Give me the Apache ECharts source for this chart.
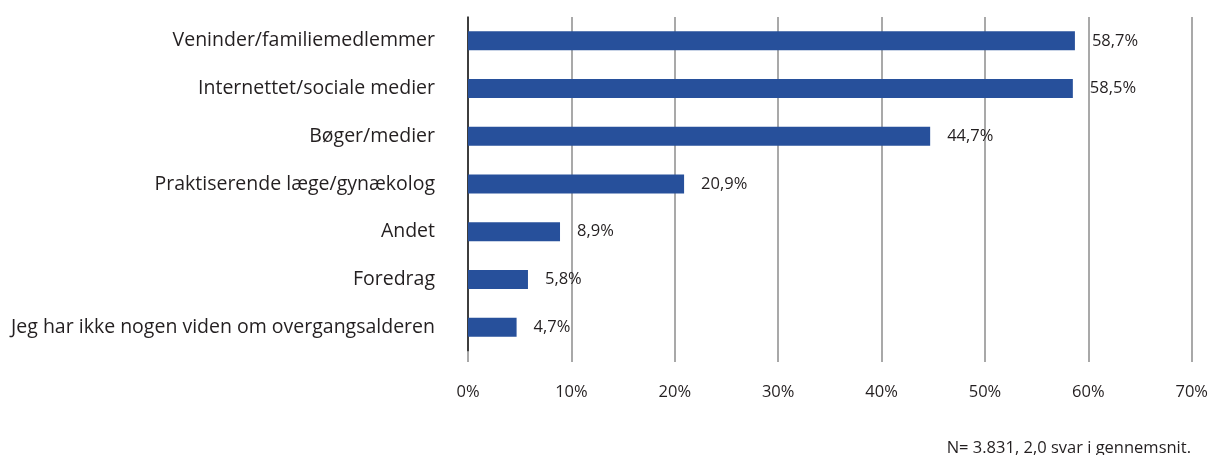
<!DOCTYPE html>
<html><head><meta charset="utf-8">
<script src="https://cdn.jsdelivr.net/npm/echarts@6/dist/echarts.min.js"></script>
<style>html,body{margin:0;padding:0;background:#fff}#c{width:1211px;height:455px}</style>
</head><body><div id="c"></div>
<script>
const categories = ["Veninder/familiemedlemmer","Internettet/sociale medier","Bøger/medier","Praktiserende læge/gynækolog","Andet","Foredrag","Jeg har ikke nogen viden om overgangsalderen"];
const values = [58.7, 58.5, 44.7, 20.9, 8.9, 5.8, 4.7];
const xTicks = [0,10,20,30,40,50,60,70];
const footnote = "N= 3.831, 2,0 svar i gennemsnit.";
const FONT = "Open Sans";
const chart = echarts.init(document.getElementById('c'));
chart.setOption({
  animation:false,
  textStyle:{fontFamily:FONT},
  grid:{left:468,right:18,top:17,bottom:104,containLabel:false},
  xAxis:{type:'value',min:0,max:70,interval:10,
    axisLine:{show:false},
    axisTick:{show:true,inside:false,length:11,lineStyle:{color:'#8c8c8c',width:1.5}},
    splitLine:{show:true,lineStyle:{color:'#8c8c8c',width:1.5}},
    axisLabel:{margin:33,color:'#231f20',fontSize:16.5,fontFamily:FONT,verticalAlign:'top',
      formatter:v=>xTicks.includes(v)?v+'%':''}},
  yAxis:{type:'category',inverse:true,data:categories,
    axisLine:{show:true,onZero:false,lineStyle:{color:'#1a1a1a',width:1.5}},
    axisTick:{show:false},
    axisLabel:{margin:33,color:'#231f20',fontSize:19.5,fontFamily:FONT}},
  series:[{type:'bar',data:values,barWidth:19,
    itemStyle:{color:'#27509b'},
    label:{show:true,position:'right',distance:17,color:'#231f20',fontSize:16.5,fontFamily:FONT,
      formatter:p=>p.value.toFixed(1).replace('.',',')+'%'}}],
  graphic:[{type:'text',right:20,top:440,style:{text:footnote,fill:'#231f20',font:'16.5px "'+FONT+'"'}}]
});
</script></body></html>
